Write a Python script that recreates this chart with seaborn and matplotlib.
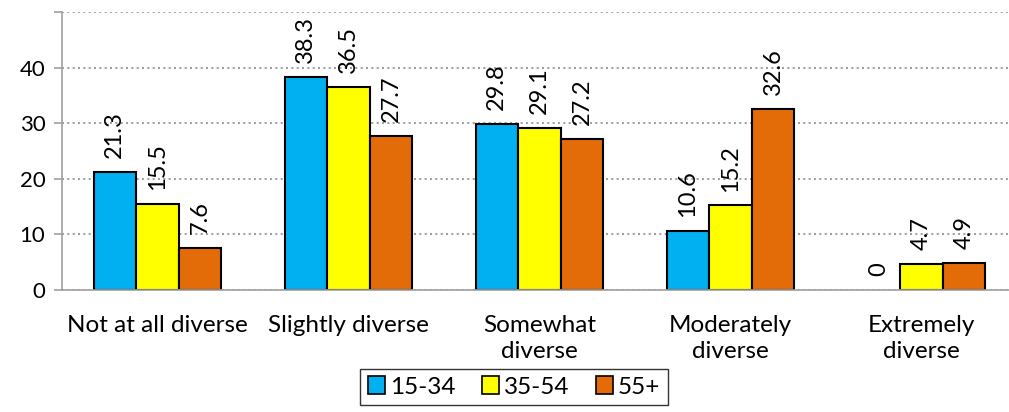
import matplotlib
matplotlib.use("Agg")
import matplotlib.pyplot as plt
import seaborn as sns
import pandas as pd
from matplotlib.patches import Patch

categories = ["Not at all diverse", "Slightly diverse", "Somewhat\ndiverse", "Moderately\ndiverse", "Extremely\ndiverse"]
groups = ["15-34", "35-54", "55+"]
v_15_34 = [21.3, 38.3, 29.8, 10.6, 0]
v_35_54 = [15.5, 36.5, 29.1, 15.2, 4.7]
v_55 = [7.6, 27.7, 27.2, 32.6, 4.9]
colors = ["#00B0F0", "#FFFF00", "#E36C09"]

rows = []
for g, vals in zip(groups, [v_15_34, v_35_54, v_55]):
    for c, v in zip(categories, vals):
        rows.append({"cat": c, "grp": g, "val": v})
df = pd.DataFrame(rows)

sns.set_style("white")
plt.rcParams["font.family"] = ["Lato", "DejaVu Sans"]
plt.rcParams["text.color"] = "black"
plt.rcParams["xtick.color"] = "black"
plt.rcParams["ytick.color"] = "black"

FS = 17.5

fig = plt.figure(figsize=(10.09, 4.12), dpi=100)
ax = fig.add_axes([62/1009, 1-290/412, 955/1009, 278/412])
sns.barplot(data=df, x="cat", y="val", hue="grp", palette=colors, saturation=1,
            width=0.67, edgecolor="black", linewidth=1.5, ax=ax, legend=False)

for cont, vals in zip(ax.containers, [v_15_34, v_35_54, v_55]):
    for patch, v in zip(cont, vals):
        if v == 0:
            patch.set_linewidth(0)
    ax.bar_label(cont, labels=[f"{v:g}" for v in vals], rotation=90, padding=10, fontsize=17)

ax.set_ylim(0, 50)
ax.set_xlim(-0.5, 4.5)
ax.set_yticks([0, 10, 20, 30, 40])
ax.set_yticks([50], minor=True)
ax.yaxis.grid(True, which="both", linestyle=(0, (1.2, 2)), color="#8c8c8c", linewidth=1.2)
ax.set_axisbelow(True)
ax.set_xlabel("")
ax.set_ylabel("")
ax.set_xticks(range(5))
ax.set_xticklabels(categories, fontsize=FS, linespacing=1.3)
ax.tick_params(axis="x", which="major", length=0, pad=18)
ax.set_xticks([-0.5, 0.5, 1.5, 2.5, 3.5, 4.5], minor=True)
ax.tick_params(axis="x", which="minor", length=6, color="#a0a0a0", width=1.2)
ax.tick_params(axis="y", which="both", length=6, color="#a0a0a0", width=1.2, labelsize=16, left=True, pad=6)
for s in ["top", "right"]:
    ax.spines[s].set_visible(False)
for s in ["left", "bottom"]:
    ax.spines[s].set_color("#a0a0a0")
    ax.spines[s].set_linewidth(1.2)

handles = [Patch(facecolor=c, edgecolor="black", linewidth=1.2) for c in colors]
leg = fig.legend(handles, groups, loc="center", bbox_to_anchor=(514/1009, 1-387/412), ncol=3,
                 frameon=True, fancybox=False, edgecolor="black", fontsize=FS,
                 handlelength=0.7, handleheight=0.7, handletextpad=0.2, columnspacing=1.1,
                 borderpad=0.3)
leg.get_frame().set_linewidth(1.0)

fig.savefig("out.png", dpi=100)
